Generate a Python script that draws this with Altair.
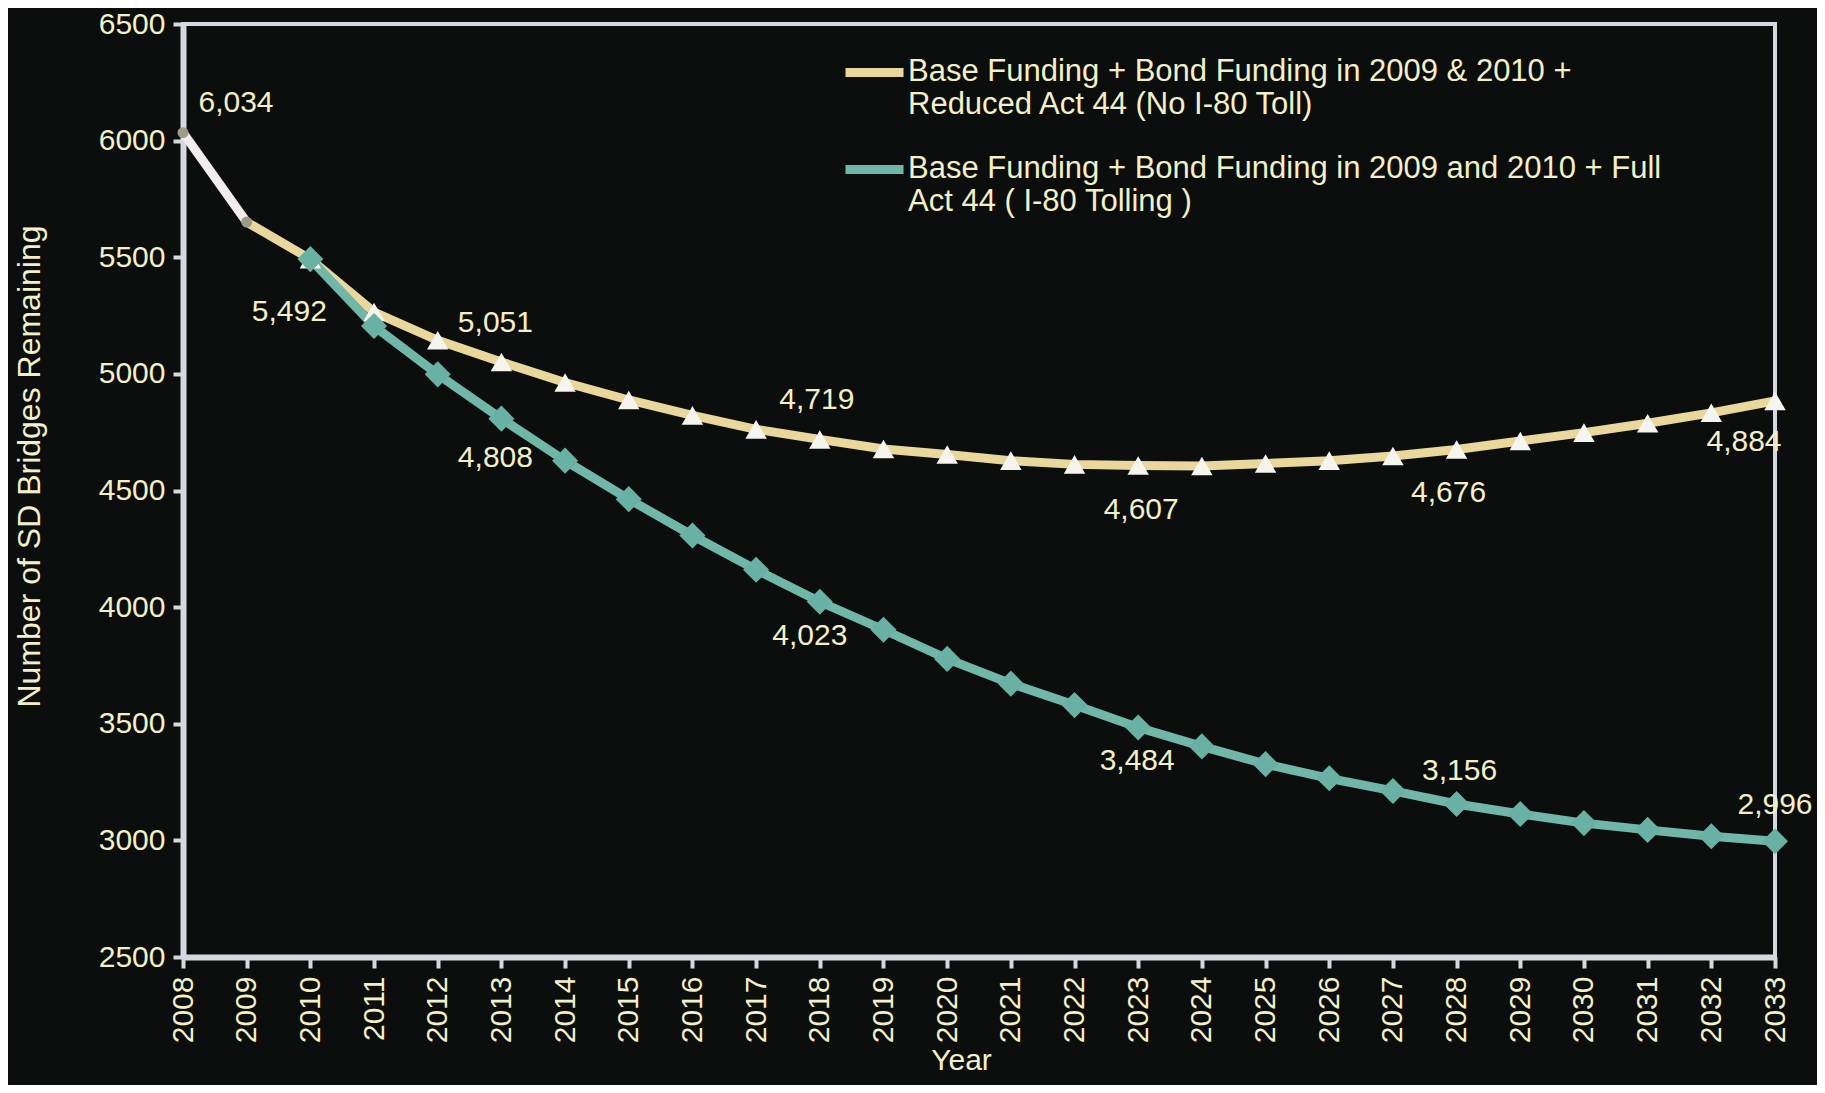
import json
import altair as alt
import pandas as pd

# ---------------- data ----------------
SERIES_A = "Base Funding + Bond Funding in 2009 & 2010 + Reduced Act 44 (No I-80 Toll)"
SERIES_B = "Base Funding + Bond Funding in 2009 and 2010 + Full Act 44 ( I-80 Tolling )"
LEGEND_LINES_A = ["Base Funding + Bond Funding in 2009 & 2010 +", "Reduced Act 44 (No I-80 Toll)"]
LEGEND_LINES_B = ["Base Funding + Bond Funding in 2009 and 2010 + Full", "Act 44 ( I-80 Tolling )"]

hist_years = [2008, 2009]
hist_values = [6034, 5651]

reduced_years = list(range(2009, 2034))
reduced_values = [5651, 5492, 5265, 5144, 5051, 4963, 4888, 4822, 4762, 4719,
                  4678, 4654, 4628, 4612, 4607, 4605, 4616, 4628, 4648, 4676,
                  4712, 4748, 4788, 4833, 4884]

full_years = list(range(2010, 2034))
full_values = [5492, 5205, 4998, 4808, 4628, 4463, 4307, 4160, 4023, 3903,
               3778, 3672, 3580, 3484, 3403, 3327, 3266, 3212, 3156, 3113,
               3074, 3045, 3018, 2996]

label_years = [2008, 2010, 2013, 2013, 2018, 2018, 2023, 2023, 2028, 2028, 2033, 2033]
label_values = [6034, 5492, 5051, 4808, 4719, 4023, 4607, 3484, 4676, 3156, 4884, 2996]

x_ticks = list(range(2008, 2034))
y_ticks = [2500, 3000, 3500, 4000, 4500, 5000, 5500, 6000, 6500]

# ---------------- styles ----------------
BG = "#0b0e0d"
TEXT = "#f3f0c8"
AXIS = "#d6d8e0"
YELLOW = "#e9d79c"
GREEN = "#70b7aa"
FONT = "Liberation Sans"

# label offsets (dx, dy) in pixels, styling only
label_offsets = {
    6034: (53, -30), 5492: (-21, 53), 5051: (-6, -39), 4808: (-6, 39),
    4719: (-3, -39), 4023: (-10, 34), 4607: (3, 44), 3484: (-1, 34),
    4676: (-8, 44), 3156: (3, -33), 4884: (-31, 41), 2996: (0, -36),
}

lines_df = pd.DataFrame({
    "Year": reduced_years + full_years,
    "Value": reduced_values + full_values,
    "Series": [SERIES_A] * len(reduced_years) + [SERIES_B] * len(full_years),
})
hist_df = pd.DataFrame({"Year": hist_years, "Value": hist_values})
labels_df = pd.DataFrame({"Year": label_years, "Value": label_values})

x_enc = alt.X(
    "Year:Q",
    scale=alt.Scale(domain=[2008, 2033], nice=False, zero=False),
    axis=alt.Axis(values=x_ticks, format="d", labelAngle=-90, title="Year",
                  tickSize=11, labelPadding=8, titlePadding=3, titleX=778),
)
y_enc = alt.Y(
    "Value:Q",
    scale=alt.Scale(domain=[2500, 6500], nice=False, zero=False),
    axis=alt.Axis(values=y_ticks, format="d", title="Number of SD Bridges Remaining",
                  tickSize=10, labelPadding=8, titlePadding=52, titleY=442,
                  titleFontSize=32),
)

label_expr = (
    f"datum.label == '{SERIES_A}' ? {json.dumps(LEGEND_LINES_A)} : {json.dumps(LEGEND_LINES_B)}"
)

lines = alt.Chart(lines_df).mark_line(strokeWidth=9).encode(
    x=x_enc,
    y=y_enc,
    color=alt.Color(
        "Series:N",
        scale=alt.Scale(domain=[SERIES_A, SERIES_B], range=[YELLOW, GREEN]),
        legend=alt.Legend(
            title=None, orient="none", legendX=658, legendY=-1,
            labelExpr=label_expr, labelFont=FONT, labelFontSize=31,
            labelColor=TEXT, labelBaseline="top", labelLimit=1200,
            symbolType="M-1,0.55L1,0.55", symbolSize=3364, symbolStrokeWidth=9,
            rowPadding=0, labelOffset=0,
        ),
    ),
)

hist_line = alt.Chart(hist_df).mark_line(strokeWidth=9, color="#f3ecee").encode(x="Year:Q", y="Value:Q")
hist_pts = alt.Chart(hist_df).mark_point(filled=True, shape="circle", size=120, color="#9d9a86", opacity=1).encode(
    x="Year:Q", y="Value:Q")

tri = alt.Chart(lines_df).transform_filter(
    (alt.datum.Series == SERIES_A) & (alt.datum.Year >= 2010)
).mark_point(filled=True, shape="triangle-up", size=460, color="#f6f4ee", opacity=1).encode(
    x="Year:Q", y="Value:Q")

dia = alt.Chart(lines_df).transform_filter(
    alt.datum.Series == SERIES_B
).mark_point(filled=True, shape="diamond", size=680, color="#69b1a4", opacity=1).encode(
    x="Year:Q", y="Value:Q")

text_layers = []
for v, (dx, dy) in label_offsets.items():
    text_layers.append(
        alt.Chart(labels_df).transform_filter(alt.datum.Value == v).mark_text(
            dx=dx, dy=dy, font=FONT, fontSize=30, color=TEXT, align="center", baseline="middle"
        ).encode(x="Year:Q", y="Value:Q", text=alt.Text("Value:Q", format=","))
    )

chart = alt.layer(hist_line, lines, hist_pts, tri, dia, *text_layers).properties(
    width=1592,
    height=933,
    autosize=alt.AutoSizeParams(type="none"),
    padding={"left": 175, "top": 16, "right": 42, "bottom": 128},
).configure(
    background=BG, font=FONT,
).configure_view(
    fill=BG, stroke=AXIS, strokeWidth=4,
).configure_axis(
    grid=False, domainColor=AXIS, domainWidth=6, tickColor=AXIS, tickWidth=4,
    labelColor=TEXT, titleColor=TEXT, labelFont=FONT, titleFont=FONT,
    labelFontSize=30, titleFontSize=30, titleFontWeight="normal",
)

chart.save("out.html", embed_options={"renderer": "svg", "actions": False})
